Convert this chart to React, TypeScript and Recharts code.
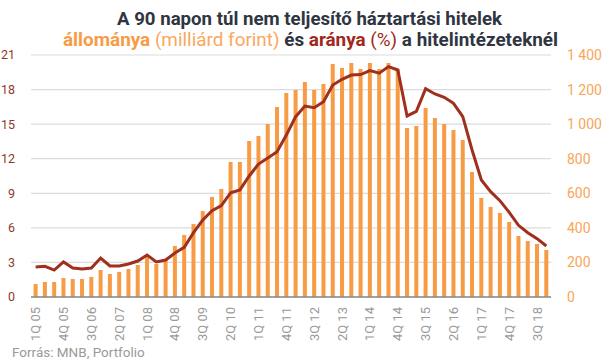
import React from "react";
import { ComposedChart, Bar, Line, XAxis, YAxis, CartesianGrid } from "recharts";

const quarters = [
  "1Q 05", "2Q 05", "3Q 05", "4Q 05",
  "1Q 06", "2Q 06", "3Q 06", "4Q 06",
  "1Q 07", "2Q 07", "3Q 07", "4Q 07",
  "1Q 08", "2Q 08", "3Q 08", "4Q 08",
  "1Q 09", "2Q 09", "3Q 09", "4Q 09",
  "1Q 10", "2Q 10", "3Q 10", "4Q 10",
  "1Q 11", "2Q 11", "3Q 11", "4Q 11",
  "1Q 12", "2Q 12", "3Q 12", "4Q 12",
  "1Q 13", "2Q 13", "3Q 13", "4Q 13",
  "1Q 14", "2Q 14", "3Q 14", "4Q 14",
  "1Q 15", "2Q 15", "3Q 15", "4Q 15",
  "1Q 16", "2Q 16", "3Q 16", "4Q 16",
  "1Q 17", "2Q 17", "3Q 17", "4Q 17",
  "1Q 18", "2Q 18", "3Q 18", "4Q 18",
];

// állomány, milliárd forint (right axis)
const amounts = [
  75, 87, 87, 110, 104, 104, 116, 156, 133, 145, 162, 185, 231, 191, 214, 295,
  359, 422, 497, 579, 625, 781, 781, 902, 931, 1001, 1099, 1180, 1197, 1244, 1197, 1232,
  1348, 1325, 1354, 1319, 1354, 1319, 1354, 1319, 978, 989, 1093, 1036, 1001, 966, 908, 723,
  573, 521, 486, 434, 353, 324, 307, 272,
];

// arány, % (left axis)
const ratios = [
  2.6, 2.66, 2.34, 3.04, 2.52, 2.43, 2.52, 3.38, 2.69, 2.69, 2.86, 3.12, 3.64, 3.04, 3.21, 3.82,
  4.31, 5.58, 6.68, 7.49, 7.93, 9.05, 9.29, 10.5, 11.54, 12.06, 12.61, 14.06, 15.65, 16.57, 16.43, 16.95,
  18.4, 18.89, 19.26, 19.3, 19.64, 19.42, 19.99, 19.7, 15.71, 16.11, 18.08, 17.62, 17.33, 16.81, 15.65, 12.76,
  10.15, 9.14, 8.36, 7.35, 6.22, 5.58, 5.06, 4.43,
];

const leftTicks = [0, 3, 6, 9, 12, 15, 18, 21];
const rightTicks = [0, 200, 400, 600, 800, 1000, 1200, 1400];

const data = quarters.map((q, i) => ({ q, amt: amounts[i], pct: ratios[i] }));

const FONT = "Roboto, 'Noto Sans', sans-serif";

const fmtRight = (v: number) =>
  v >= 1000 ? `${Math.floor(v / 1000)} ${String(v % 1000).padStart(3, "0")}` : String(v);

const XTick = (props: any) => {
  const { x, y, payload } = props;
  return (
    <text
      x={x}
      y={y}
      transform={`rotate(-90 ${x} ${y})`}
      textAnchor="end"
      dominantBaseline="central"
      fill="#9a9a9a"
      fontSize={13}
      fontFamily={FONT}
    >
      {payload.value}
    </text>
  );
};

export default function App() {
  return (
    <div style={{ position: "absolute", left: 0, top: 0, width: 605, height: 364, background: "#fff" }}>
      <ComposedChart
        width={605}
        height={364}
        data={data}
        margin={{ top: 55, right: 0, bottom: 22, left: 0 }}
        barCategoryGap="28%"
      >
        <CartesianGrid yAxisId="pct" vertical={false} stroke="#dcdcdc" strokeWidth={1.2} />
        <XAxis
          dataKey="q"
          interval={2}
          tickLine={false}
          tickSize={0}
          tickMargin={10}
          height={45}
          axisLine={{ stroke: "#8a8a8a", strokeWidth: 1.5 }}
          tick={<XTick />}
        />
        <YAxis
          yAxisId="pct"
          domain={[0, 21]}
          ticks={leftTicks}
          width={31}
          tickSize={0}
          tickMargin={16}
          axisLine={false}
          tickLine={false}
          tick={{ fill: "#8e3a28", fontSize: 12.5, fontFamily: FONT }}
        />
        <YAxis
          yAxisId="amt"
          orientation="right"
          domain={[0, 1400]}
          ticks={rightTicks}
          width={54}
          tickSize={0}
          tickMargin={16}
          axisLine={false}
          tickLine={false}
          tickFormatter={fmtRight}
          tick={{ fill: "#f8a65a", fontSize: 14, fontFamily: FONT, textAnchor: "start" }}
        />
        <Bar yAxisId="amt" dataKey="amt" fill="#f79b45" isAnimationActive={false} />
        <Line
          yAxisId="pct"
          dataKey="pct"
          type="linear"
          stroke="#a0301e"
          strokeWidth={3}
          dot={false}
          activeDot={false}
          isAnimationActive={false}
        />
      </ComposedChart>
      <svg
        width={605}
        height={364}
        style={{ position: "absolute", left: 0, top: 0, pointerEvents: "none" }}
      >
        <text
          x={117}
          y={24.5}
          textLength={385}
          lengthAdjust="spacingAndGlyphs"
          fontSize={18}
          fontWeight={700}
          fill="#2f3541"
          fontFamily={FONT}
        >
          A 90 napon túl nem teljesítő háztartási hitelek
        </text>
        <text
          x={63}
          y={45.5}
          textLength={495}
          lengthAdjust="spacingAndGlyphs"
          fontSize={18}
          fontFamily={FONT}
        >
          <tspan fontWeight={700} fill="#f79b45">állománya</tspan>
          <tspan fill="#f9a85e"> (milliárd forint) </tspan>
          <tspan fontWeight={700} fill="#2f3541">és </tspan>
          <tspan fontWeight={700} fill="#a0281c">aránya</tspan>
          <tspan fill="#a0281c"> (%) </tspan>
          <tspan fontWeight={700} fill="#2f3541">a hitelintézeteknél</tspan>
        </text>
        <text x={12} y={357} fontSize={13.5} fill="#9a9a9a" fontFamily={FONT}>
          Forrás: MNB, Portfolio
        </text>
      </svg>
    </div>
  );
}
